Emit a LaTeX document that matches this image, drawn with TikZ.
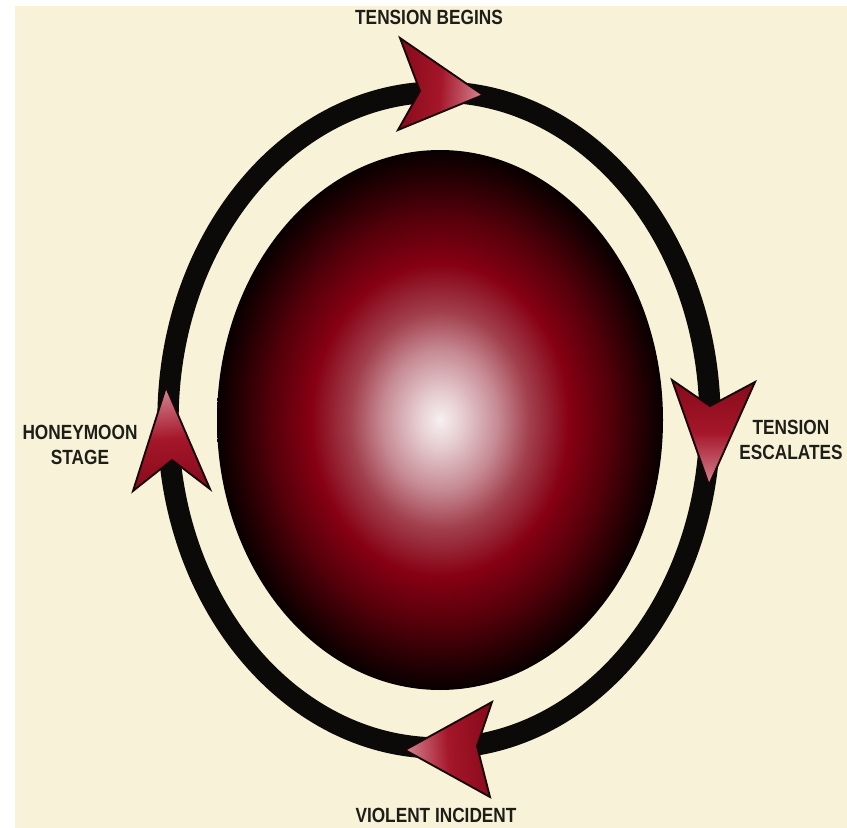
\documentclass[tikz,border=0pt]{standalone}
\usepackage{fontspec}
\usepackage{tikz}
\usepackage{xcolor}
\usetikzlibrary{calc}
\newfontfamily\stagefont[FakeStretch=0.84]{Liberation Sans}
\definecolor{paper}{HTML}{F8F3D8}
\definecolor{ringink}{HTML}{0C0A08}
\definecolor{labelink}{HTML}{1E1E18}
\definecolor{arrowink}{HTML}{160808}
\definecolor{arrowbase}{HTML}{860A1A}
\definecolor{arrowmid}{HTML}{A5162A}
\definecolor{arrowtip}{HTML}{D48592}
\definecolor{coreA}{HTML}{F7F0F1}
\definecolor{coreB}{HTML}{E6CDD1}
\definecolor{coreC}{HTML}{C68A93}
\definecolor{coreD}{HTML}{A2404E}
\definecolor{coreE}{HTML}{860012}
\definecolor{coreF}{HTML}{54000A}
\definecolor{coreG}{HTML}{260003}
\definecolor{coreH}{HTML}{080000}
\pgfdeclareradialshading{spherecore}{\pgfpointorigin}{%
  color(0bp)=(coreA); color(2.5bp)=(coreB); color(6.5bp)=(coreC);
  color(10bp)=(coreD); color(14.5bp)=(coreE); color(19bp)=(coreF);
  color(22.5bp)=(coreG); color(25bp)=(coreH); color(50bp)=(coreH)}
\tikzset{
  ringline/.style={draw=ringink,line width=16pt},
  arrowhead/.style={draw=arrowink,line width=1.4pt,line join=miter,
                    top color=arrowtip,bottom color=arrowbase,middle color=arrowmid},
  stagelabel/.style={text=labelink,align=center,inner sep=0pt,
                     font=\stagefont\bfseries\fontsize{15.4}{19}\selectfont}
}

\begin{document}
\begin{tikzpicture}[x=0.75pt,y=-0.75pt]
  \useasboundingbox (0,0) rectangle (847,828);
  \fill[white] (0,0) rectangle (847,828);
  \fill[paper] (15,6) rectangle (847,828);
  % centre ball
  \shade[shading=spherecore] (440,420) ellipse [x radius=223, y radius=270];
  % cycle ring
  \draw[ringline] (439,420) ellipse [x radius=271, y radius=328];
  % arrowheads, clockwise
  \shadedraw[arrowhead,shading angle=-94] (483,95) -- (400,38) -- (420,91) -- (398,130) -- cycle;
  \shadedraw[arrowhead,shading angle=-180] (709,485) -- (755,382) -- (710,406) -- (672,380) -- cycle;
  \shadedraw[arrowhead,shading angle=94] (405,750) -- (492,702) -- (477,746) -- (490,797) -- cycle;
  \shadedraw[arrowhead,shading angle=5] (166,387) -- (133,491) -- (172,460) -- (210,489) -- cycle;
  % stage labels
  \node[stagelabel] (begins) at (429,17.5) {TENSION BEGINS};
  \node[stagelabel] (escalates) at (791,440) {TENSION\\ESCALATES};
  \node[stagelabel] (honeymoon) at (80,445) {HONEYMOON\\STAGE};
  \node[stagelabel] (incident) at (436,815) {VIOLENT INCIDENT};
\end{tikzpicture}
\end{document}
